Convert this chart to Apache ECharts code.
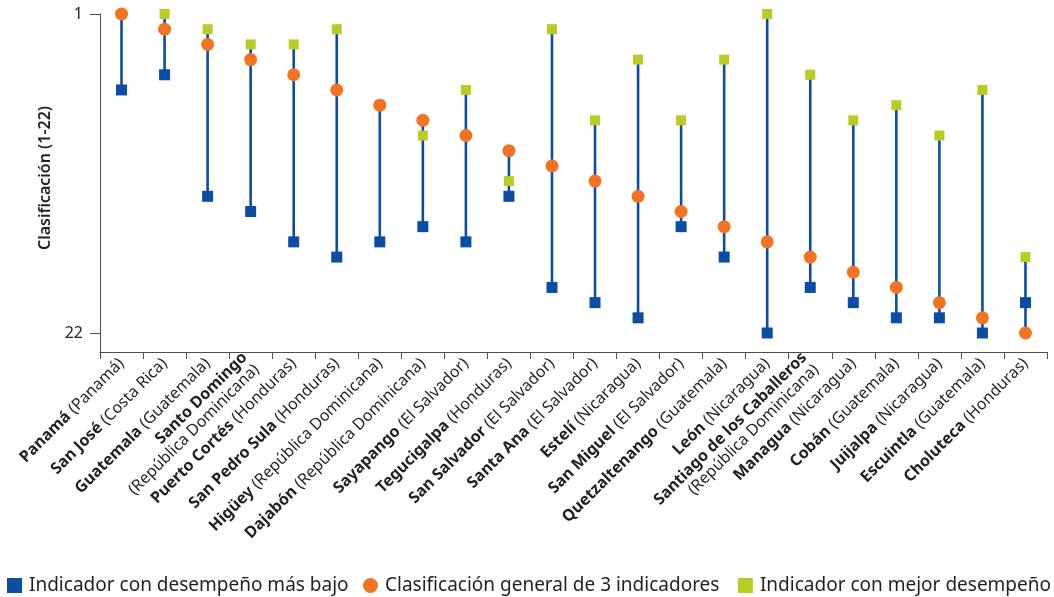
<!DOCTYPE html>
<html>
<head>
<meta charset="utf-8">
<script src="https://cdn.jsdelivr.net/npm/echarts@6/dist/echarts.min.js"></script>
<style>
  html, body { margin: 0; padding: 0; background: #ffffff; }
  #chart { width: 1054px; height: 597px; }
</style>
</head>
<body>
<div id="chart"></div>
<script>
// Ciudades (nombre en negrita) y país entre paréntesis
const ciudades = ['Panamá', 'San José', 'Guatemala', 'Santo Domingo', 'Puerto Cortés', 'San Pedro Sula',
  'Higüey', 'Dajabón', 'Sayapango', 'Tegucigalpa', 'San Salvador', 'Santa Ana', 'Estelí', 'San Miguel',
  'Quetzaltenango', 'León', 'Santiago de los Caballeros', 'Managua', 'Cobán', 'Juijalpa', 'Escuintla', 'Choluteca'];
const paises = ['Panamá', 'Costa Rica', 'Guatemala', 'República Dominicana', 'Honduras', 'Honduras',
  'República Dominicana', 'República Dominicana', 'El Salvador', 'Honduras', 'El Salvador', 'El Salvador',
  'Nicaragua', 'El Salvador', 'Guatemala', 'Nicaragua', 'República Dominicana', 'Nicaragua', 'Guatemala',
  'Nicaragua', 'Guatemala', 'Honduras'];
// Ciudades cuyo país va en una segunda línea
const dosLineas = ['Santo Domingo', 'Santiago de los Caballeros'];

// Clasificaciones (1 = mejor, 22 = peor)
const masBajo = [6, 5, 13, 14, 16, 17, 16, 15, 16, 13, 19, 20, 21, 15, 17, 22, 19, 20, 21, 21, 22, 20];
const general = [1, 2, 3, 4, 5, 6, 7, 8, 9, 10, 11, 12, 13, 14, 15, 16, 17, 18, 19, 20, 21, 22];
const mejor   = [1, 1, 2, 3, 3, 2, 7, 9, 6, 12, 2, 8, 4, 8, 4, 1, 5, 8, 7, 9, 6, 17];

const yTicks = [1, 22];

const serieNombres = ['Indicador con desempeño más bajo', 'Clasificación general de 3 indicadores', 'Indicador con mejor desempeño'];
const AZUL = '#0a4da2';
const NARANJA = '#f47322';
const VERDE = '#b9cb24';
const TEXTO = '#231f20';
const EJE = '#4d4d4d';

const rangos = ciudades.map((c, i) => [i, masBajo[i], general[i], mejor[i]]);

const chart = echarts.init(document.getElementById('chart'), null, { renderer: 'canvas' });

const legendText = { color: TEXTO, fontSize: 19, fontFamily: 'Noto Sans', padding: [0, 0, 0, 2] };
const legendBase = { top: 576, itemWidth: 15, itemHeight: 15, textStyle: legendText, padding: 0 };

chart.setOption({
  animation: false,
  backgroundColor: '#ffffff',
  grid: { left: 100, right: 7, top: 14, bottom: 245 },
  legend: [
    Object.assign({ data: [{ name: serieNombres[0], icon: 'rect' }], left: 7 }, legendBase),
    Object.assign({ data: [{ name: serieNombres[1], icon: 'circle' }], left: 363 }, legendBase),
    Object.assign({ data: [{ name: serieNombres[2], icon: 'rect' }], right: 3 }, legendBase)
  ],
  graphic: [{
    type: 'text',
    x: 45, y: 178,
    rotation: Math.PI / 2,
    style: {
      text: 'Clasificación (1-22)',
      fill: TEXTO,
      font: '600 16px "Noto Sans"',
      align: 'center',
      verticalAlign: 'middle'
    }
  }],
  xAxis: {
    type: 'category',
    data: ciudades,
    boundaryGap: true,
    axisLine: { lineStyle: { color: EJE, width: 1 } },
    axisTick: { show: true, length: 7, alignWithLabel: false, lineStyle: { color: EJE } },
    axisLabel: {
      rotate: 45,
      interval: 0,
      margin: 9,
      color: TEXTO,
      fontFamily: 'Noto Sans',
      fontSize: 16,
      formatter: function (v, i) {
        const sep = dosLineas.indexOf(v) >= 0 ? '\n' : ' ';
        return '{b|' + v + '}' + sep + '{n|(' + paises[i] + ')}';
      },
      rich: {
        b: { fontWeight: 'bold', fontSize: 16, color: TEXTO, fontFamily: 'Noto Sans', lineHeight: 17 },
        n: { fontWeight: 'normal', fontSize: 16, color: TEXTO, fontFamily: 'Noto Sans', lineHeight: 17 }
      }
    }
  },
  yAxis: {
    type: 'value',
    inverse: true,
    min: 1,
    max: 23.25,
    splitLine: { show: false },
    axisLine: { show: true, lineStyle: { color: EJE, width: 1 } },
    axisTick: { show: true, length: 10, customValues: yTicks, lineStyle: { color: EJE } },
    axisLabel: { customValues: yTicks, color: TEXTO, fontSize: 16, fontFamily: 'Noto Sans', margin: 17 }
  },
  series: [
    {
      // línea vertical entre la peor y la mejor clasificación
      type: 'custom',
      name: 'rango',
      data: rangos,
      z: 1,
      silent: true,
      encode: { x: 0, y: [1, 2, 3] },
      renderItem: function (params, api) {
        const x = api.value(0);
        const vals = [api.value(1), api.value(2), api.value(3)];
        const p1 = api.coord([x, Math.min.apply(null, vals)]);
        const p2 = api.coord([x, Math.max.apply(null, vals)]);
        return {
          type: 'line',
          shape: { x1: p1[0], y1: p1[1], x2: p2[0], y2: p2[1] },
          style: { stroke: AZUL, lineWidth: 2.6 }
        };
      }
    },
    {
      type: 'scatter', name: serieNombres[0], data: masBajo,
      symbol: 'rect', symbolSize: 11, z: 3,
      itemStyle: { color: AZUL, opacity: 1 }
    },
    {
      type: 'scatter', name: serieNombres[2], data: mejor,
      symbol: 'rect', symbolSize: 10, z: 4,
      itemStyle: { color: VERDE, opacity: 1 }
    },
    {
      type: 'scatter', name: serieNombres[1], data: general,
      symbol: 'circle', symbolSize: 13, z: 5,
      itemStyle: { color: NARANJA, opacity: 1 }
    }
  ]
});
</script>
</body>
</html>
